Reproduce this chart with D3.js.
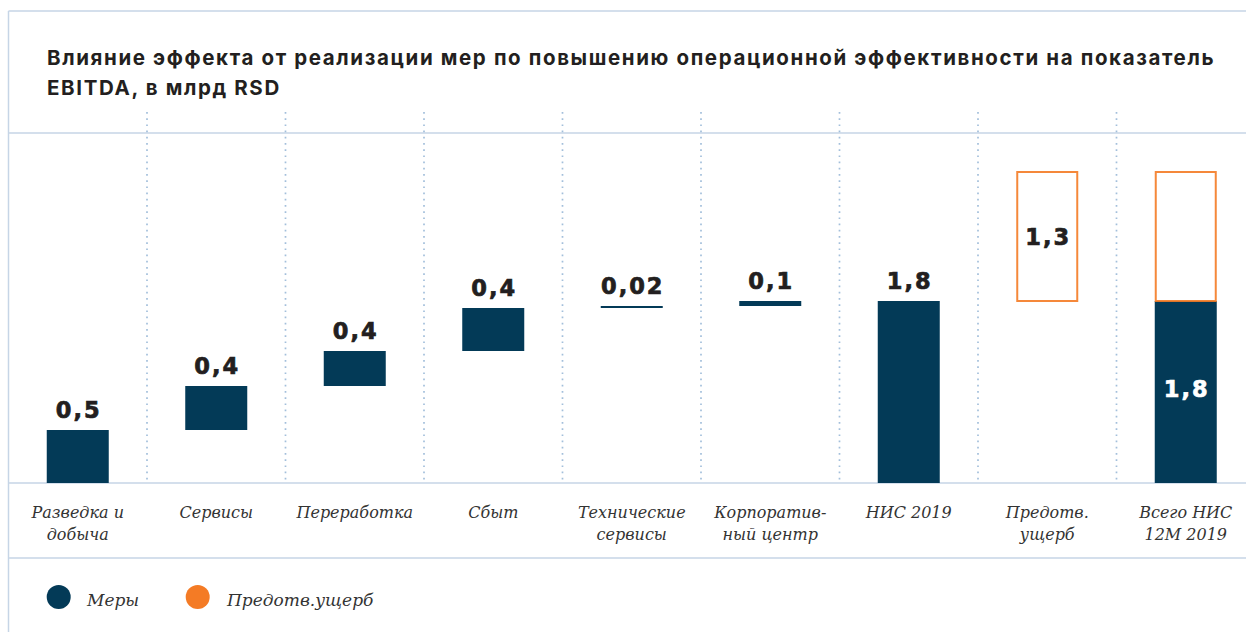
<!DOCTYPE html>
<html lang="ru">
<head>
<meta charset="utf-8">
<script src="https://cdn.jsdelivr.net/npm/d3@7/dist/d3.min.js"></script>
<style>
  html, body { margin: 0; padding: 0; background: #ffffff; }
  svg { display: block; }
</style>
</head>
<body>
<svg id="chart" width="1246" height="632"></svg>
<script>
// Waterfall: effect of operational efficiency measures on EBITDA, bn RSD
const titleLines = [
  "Влияние эффекта от реализации мер по повышению операционной эффективности на показатель",
  "EBITDA, в млрд RSD"
];
const categories = [
  "Разведка и|добыча", "Сервисы", "Переработка", "Сбыт",
  "Технические|сервисы", "Корпоратив-|ный центр", "НИС 2019",
  "Предотв.|ущерб", "Всего НИС|12М 2019"
];
// contribution of each business block (first six columns)
const measureValues = [0.53, 0.44, 0.35, 0.43, 0.02, 0.05];
// prevented damage
const preventedValue = 1.3;
const legendLabels = ["Меры", "Предотв.ущерб"];

const COLOR_DARK = "#033a57";
const COLOR_ORANGE = "#f47b25";
const COLOR_RULE = "#c6d5e6";
const COLOR_DOT = "#a3bfdb";
const COLOR_TEXT = "#231f20";

const W = 1246, H = 632;
const frameLeft = 8.5;
const yTop = 11, yHead = 133, yBase = 483, yLabels = 558;

const svg = d3.select("#chart");

// scales
const x = d3.scaleBand().domain(categories).range([frameLeft, frameLeft + 138.5 * categories.length])
  .paddingInner(0).paddingOuter(0);
const barW = 62;
const y = d3.scaleLinear().domain([0, 3.5]).range([yBase, yBase - 350]);

// build waterfall segments
const nisTotal = d3.sum(measureValues);
const segments = [];
let acc = 0;
measureValues.forEach((v, i) => {
  segments.push({ cat: categories[i], y0: acc, y1: acc + v, value: v, kind: "measure" });
  acc += v;
});
segments.push({ cat: categories[6], y0: 0, y1: nisTotal, value: nisTotal, kind: "measure" });
segments.push({ cat: categories[7], y0: nisTotal, y1: nisTotal + preventedValue, value: preventedValue, kind: "prevented", inside: 9 });
segments.push({ cat: categories[8], y0: 0, y1: nisTotal, value: nisTotal, kind: "measure", inside: 5, white: true });
segments.push({ cat: categories[8], y0: nisTotal, y1: nisTotal + preventedValue, value: preventedValue, kind: "prevented", noLabel: true });

const fmt = v => (v < 0.05 ? v.toFixed(2) : (Math.round(v * 10) / 10).toFixed(1)).replace(".", ",");

// frame rules
const rules = svg.append("g");
[yTop, yHead, yLabels].forEach(yy => {
  rules.append("line").attr("x1", frameLeft).attr("x2", W).attr("y1", yy).attr("y2", yy)
    .attr("stroke", COLOR_RULE).attr("stroke-width", 1.5);
});
rules.append("line").attr("x1", frameLeft).attr("x2", frameLeft).attr("y1", yTop).attr("y2", H)
  .attr("stroke", COLOR_RULE).attr("stroke-width", 1.5);

// dotted column separators
svg.append("g").selectAll("line").data(categories.slice(1)).join("line")
  .attr("x1", d => x(d)).attr("x2", d => x(d))
  .attr("y1", 112).attr("y2", 480)
  .attr("stroke", COLOR_DOT).attr("stroke-width", 1.7)
  .attr("stroke-dasharray", "1.7,4.5");

// baseline axis
svg.append("line").attr("x1", frameLeft).attr("x2", W).attr("y1", yBase).attr("y2", yBase)
  .attr("stroke", COLOR_RULE).attr("stroke-width", 1.5);

// title, tracked out to span the header width
const title = svg.append("text")
  .attr("font-family", "Inter, Roboto, sans-serif").attr("font-weight", 700)
  .attr("font-size", 20.5).attr("fill", COLOR_TEXT);
const tsp = titleLines.map((t, i) => title.append("tspan").attr("x", 47).attr("y", i ? 95 : 65).text(t));
const firstLen = tsp[0].node().getComputedTextLength();
const track = Math.max(0, (1168 - firstLen) / titleLines[0].length);
title.attr("letter-spacing", track.toFixed(2) + "px");

// bars
const cx = d => x(d.cat) + x.bandwidth() / 2;
svg.append("g").selectAll("rect").data(segments).join("rect")
  .attr("x", d => d.kind === "prevented" ? cx(d) - barW / 2 + 1 : cx(d) - barW / 2)
  .attr("width", d => d.kind === "prevented" ? barW - 2 : barW)
  .attr("y", d => y(d.y1) + (d.kind === "prevented" ? 1 : 0))
  .attr("height", d => Math.max(0, y(d.y0) - y(d.y1)) - (d.kind === "prevented" ? 1 : 0))
  .attr("fill", d => d.kind === "prevented" ? "#ffffff" : COLOR_DARK)
  .attr("stroke", d => d.kind === "prevented" ? COLOR_ORANGE : "none")
  .attr("stroke-width", 2)
  .attr("stroke-opacity", 0.9);

// value labels
svg.append("g").selectAll("text").data(segments.filter(d => !d.noLabel)).join("text")
  .attr("x", d => cx(d) + 1)
  .attr("y", d => d.inside ? (y(d.y0) + y(d.y1)) / 2 + d.inside : y(d.y1) - 12)
  .attr("text-anchor", "middle")
  .attr("font-family", "'DejaVu Sans', sans-serif").attr("font-weight", 700)
  .attr("font-size", 22.5).attr("letter-spacing", "2px")
  .attr("fill", d => d.white ? "#ffffff" : COLOR_TEXT)
  .attr("stroke", d => d.white ? "#ffffff" : COLOR_TEXT)
  .attr("stroke-width", 0.7)
  .text(d => fmt(d.value));

// category labels
const catG = svg.append("g").selectAll("text").data(categories).join("text")
  .attr("x", d => x(d) + x.bandwidth() / 2)
  .attr("y", 518)
  .attr("text-anchor", "middle")
  .attr("font-family", "'DejaVu Serif', serif").attr("font-style", "italic")
  .attr("font-size", 16).attr("fill", "#333333");
catG.each(function (d) {
  const lines = d.split("|");
  const t = d3.select(this);
  lines.forEach((ln, i) => t.append("tspan").attr("x", x(d) + x.bandwidth() / 2).attr("dy", i ? 22 : 0).text(ln));
});

// legend
const legend = svg.append("g");
const legendItems = [
  { label: legendLabels[0], color: COLOR_DARK, cx: 58.7, tx: 87 },
  { label: legendLabels[1], color: COLOR_ORANGE, cx: 197.7, tx: 227 }
];
legendItems.forEach(it => {
  legend.append("circle").attr("cx", it.cx).attr("cy", 597).attr("r", 12).attr("fill", it.color);
  legend.append("text").attr("x", it.tx).attr("y", 606)
    .attr("font-family", "'DejaVu Serif', serif").attr("font-style", "italic")
    .attr("font-size", 17).attr("fill", "#333333").text(it.label);
});
</script>
</body>
</html>
